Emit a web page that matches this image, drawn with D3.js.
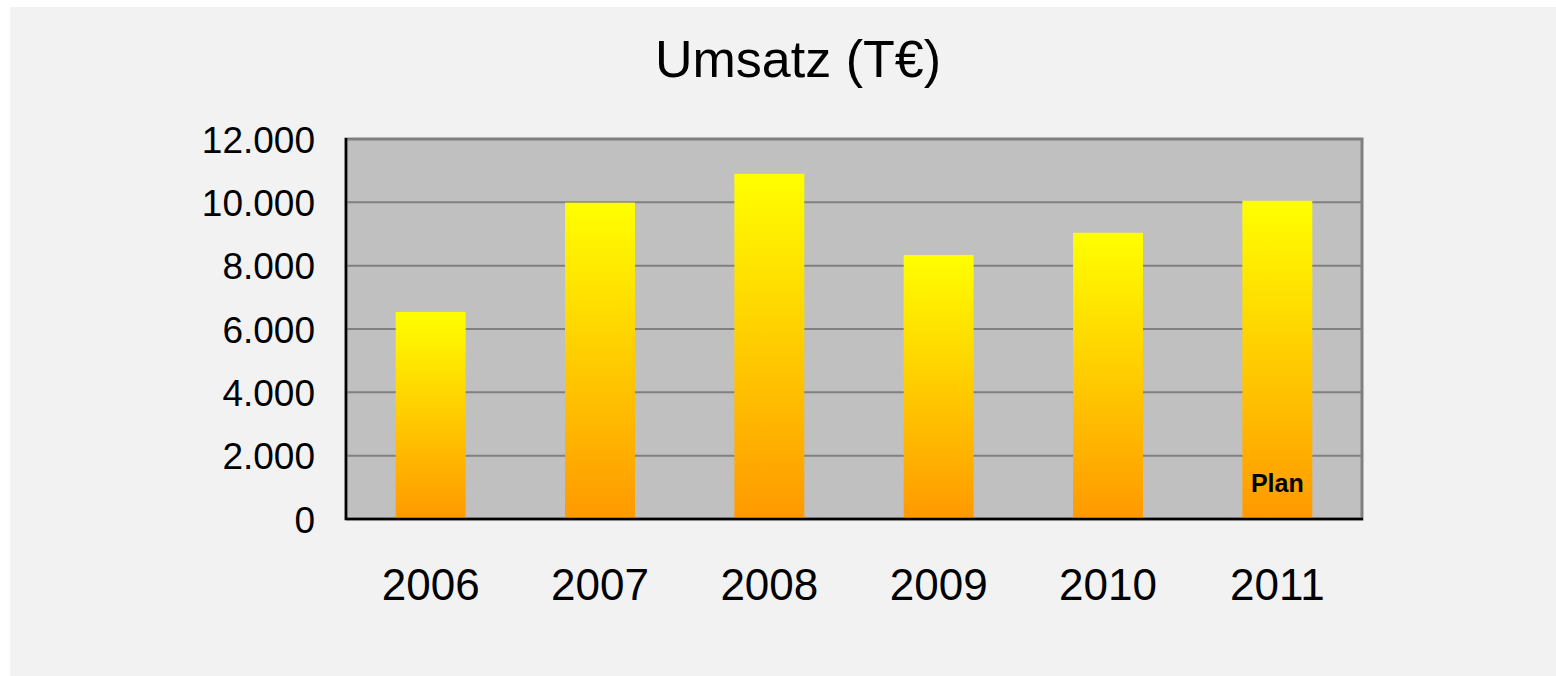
<!DOCTYPE html>
<html lang="de">
<head>
    <meta charset="UTF-8">
    <title>Umsatz (T€)</title>
    <script src="https://d3js.org/d3.v7.min.js"></script>
    <style>
        body { margin: 0; background: #fff; }
        svg { display: block; font-family: "Liberation Sans", Arial, sans-serif; }
    </style>
</head>
<body>
    <div id="chart"></div>

    <script>
        var years = ["2006", "2007", "2008", "2009", "2010", "2011"];
        var umsatz = [6540, 9990, 10900, 8340, 9040, 10050];
        var yTicks = [0, 2000, 4000, 6000, 8000, 10000, 12000];
        var planYear = "2011";

        var width = 1556;
        var height = 676;
        var margin = { top: 139, right: 194, bottom: 157, left: 346 };
        var plotW = width - margin.left - margin.right;
        var plotH = height - margin.top - margin.bottom;

        var fmt = d3.formatLocale({ decimal: ",", thousands: ".", grouping: [3], currency: ["", " €"] }).format(",.0f");

        var xScale = d3.scaleBand()
            .domain(years)
            .range([0, plotW])
            .paddingInner(0.587)
            .paddingOuter(0.2935);

        var yScale = d3.scaleLinear()
            .domain([0, 12000])
            .range([plotH, 0]);

        var svg = d3.select('#chart').append('svg')
            .attr('width', width)
            .attr('height', height);

        // bar gradient
        var grad = svg.append('defs').append('linearGradient')
            .attr('id', 'barGrad')
            .attr('x1', 0).attr('y1', 0).attr('x2', 0).attr('y2', 1);
        grad.append('stop').attr('offset', '0%').attr('stop-color', '#ffff00');
        grad.append('stop').attr('offset', '100%').attr('stop-color', '#ff9900');

        svg.append('rect')
            .attr('x', 10).attr('y', 7)
            .attr('width', width - 10).attr('height', height - 7)
            .style('fill', '#f2f2f2');

        svg.append('text')
            .attr('x', 798)
            .attr('y', 77)
            .attr('text-anchor', 'middle')
            .style('font-size', '52px')
            .text('Umsatz (T€)');

        var g = svg.append('g')
            .attr('transform', 'translate(' + margin.left + ',' + margin.top + ')');

        g.append('rect')
            .attr('width', plotW)
            .attr('height', plotH)
            .style('fill', '#c0c0c0')
            .style('stroke', '#808080')
            .style('stroke-width', 3);

        // gridlines
        g.append('g')
            .selectAll('line')
            .data(yTicks.slice(1, -1))
            .enter().append('line')
                .attr('x1', 0).attr('x2', plotW)
                .attr('y1', d => yScale(d)).attr('y2', d => yScale(d))
                .style('stroke', '#808080')
                .style('stroke-width', 2);

        g.selectAll('.bar')
            .data(umsatz)
            .enter().append('rect')
                .attr('class', 'bar')
                .attr('x', (d, i) => xScale(years[i]))
                .attr('y', d => yScale(d))
                .attr('width', xScale.bandwidth())
                .attr('height', d => plotH - yScale(d))
                .style('fill', 'url(#barGrad)');

        g.append('text')
            .attr('x', xScale(planYear) + xScale.bandwidth() / 2)
            .attr('y', 353)
            .attr('text-anchor', 'middle')
            .style('font-size', '25px')
            .style('font-weight', 'bold')
            .text('Plan');

        // axes
        var yAxis = g.append('g')
            .call(d3.axisLeft(yScale).tickValues(yTicks).tickFormat(fmt).tickSize(0).tickPadding(31));
        yAxis.select('.domain').remove();
        yAxis.selectAll('text').style('font-size', '37px').attr('dy', '0.36em');

        var xAxis = g.append('g')
            .attr('transform', 'translate(0,' + plotH + ')')
            .call(d3.axisBottom(xScale).tickSize(0).tickPadding(50));
        xAxis.select('.domain').remove();
        xAxis.selectAll('text').style('font-size', '44px');

        g.append('line')
            .attr('x1', 0).attr('x2', 0).attr('y1', -1).attr('y2', plotH + 1)
            .style('stroke', '#000').style('stroke-width', 2.5);
        g.append('line')
            .attr('x1', 0).attr('x2', plotW + 1).attr('y1', plotH).attr('y2', plotH)
            .style('stroke', '#000').style('stroke-width', 2.5);
    </script>
</body>
</html>
